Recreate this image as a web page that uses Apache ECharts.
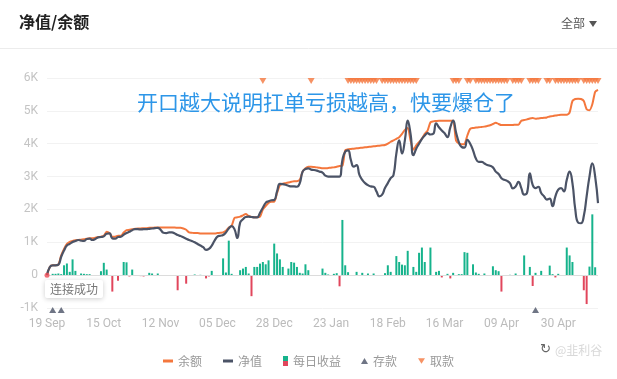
<!DOCTYPE html>
<html><head><meta charset="utf-8">
<script src="https://cdn.jsdelivr.net/npm/echarts@6/dist/echarts.min.js"></script>
<style>html,body{margin:0;padding:0;background:#fff}#c{width:617px;height:379px}</style>
</head><body><div id="c"></div>
<script>
const tickLabels = ['19 Sep','15 Oct','12 Nov','05 Dec','28 Dec','23 Jan','18 Feb','16 Mar','09 Apr','30 Apr'];

const balance = [
0,250,300,300,320,600,800,950,1010,1040,
1060,1070,1080,1090,1110,1120,1120,1140,1160,1170,
1200,1320,1280,1170,1170,1200,1200,1300,1370,1380,
1400,1410,1420,1420,1430,1430,1440,1440,1450,1450,
1450,1450,1450,1450,1450,1450,1440,1440,1420,1380,
1300,1290,1280,1280,1270,1270,1270,1270,1270,1270,
1280,1290,1300,1350,1450,1500,1740,1760,1780,1820,
1860,1800,1770,1760,1760,1780,2000,2100,2200,2230,
2230,2500,2740,2780,2800,2820,2840,2860,2860,2900,
3150,3250,3300,3300,3290,3280,3270,3250,3250,3260,
3270,3280,3300,3320,3330,3800,3830,3840,3850,3860,
3870,3880,3890,3900,3910,3920,3930,3940,3950,3960,
4000,4060,4100,4150,4200,4300,4420,4480,4100,3820,
3950,4050,4150,4300,4400,4650,4680,4690,4700,4700,
4700,4700,4700,4700,4100,4010,3980,3990,4250,4450,
4480,4490,4500,4510,4520,4540,4560,4600,4640,4600,
4570,4570,4570,4570,4570,4580,4580,4700,4720,4740,
4770,4780,4760,4770,4780,4790,4800,4830,4840,4860,
4870,4880,4880,4880,4950,5300,5360,5370,5360,5300,
5050,5020,5200,5580,5640
];

const netValue = [
0,250,300,300,320,560,750,900,950,1010,
1040,1070,1050,1040,1100,1110,1070,1100,1150,1160,
1180,1260,1270,1120,1110,1160,1170,1230,1280,1320,
1370,1400,1400,1390,1400,1400,1410,1420,1430,1440,
1380,1290,1280,1300,1300,1270,1220,1190,1150,1110,
1070,1040,1000,950,900,850,770,800,900,1050,
1170,1200,1220,1300,1420,1490,1400,1130,1600,1700,
1770,1780,1770,1760,1760,1900,2050,2200,2250,2280,
2290,2550,2780,2770,2750,2720,2700,2700,2690,2800,
3150,3230,3250,3210,3200,3180,3150,3120,3030,3000,
3000,3000,3000,3000,3500,3760,3800,3500,3300,3350,
3050,2900,2800,2740,2700,2690,2550,2400,2450,2650,
2800,2950,3050,3700,4100,3700,4100,4700,4300,3650,
3850,4000,4150,4250,4320,4280,4300,4620,4500,4400,
4320,4200,4500,4700,4350,4050,3900,3880,4120,4000,
3800,3550,3450,3450,3400,3350,3330,3280,3150,3080,
2950,2900,2870,2800,2640,2700,2840,2650,2450,2500,
3100,2750,2650,2690,2500,2400,2300,2330,2100,2400,
2600,2650,2550,2900,3150,2800,2000,1600,1580,1800,
2400,3000,3400,3000,2190
];

const dailyProfit = [
0,0,40,40,50,30,300,355,100,480,
130,0,50,40,30,30,0,0,0,120,
375,170,0,-500,0,-170,0,400,390,-40,
170,0,0,-30,-40,0,70,50,0,50,
0,0,0,0,0,0,-460,0,0,-260,
0,0,20,0,10,0,-100,-40,130,0,
0,0,510,80,1050,40,0,-20,150,200,
250,50,-640,250,250,350,400,330,450,0,
960,660,480,250,0,200,400,380,250,70,
50,330,150,0,0,0,0,200,70,20,
0,40,60,-340,1680,300,90,0,0,100,
0,70,0,50,0,50,0,0,0,60,
300,100,0,580,400,320,300,740,0,250,
100,680,840,400,0,840,0,100,130,-70,
0,40,-100,70,0,30,30,700,680,0,
330,80,40,0,50,0,0,270,150,120,
-500,0,0,10,0,50,0,0,600,0,
250,-330,70,0,130,0,0,290,30,-70,
40,0,0,840,600,400,0,0,0,-460,
-880,260,1850,240,0
];

const depositIdx = [2, 5, 172];
const withdrawIdx = [76, 93,
  106,107,108,109,110,111,112,113,114,115,116,
  118,119,120,121,122,123,124,125,126,127,128,129,130,
  143,144,145, 148,149,
  151,152,153,154,155,156,157,158,159,160,161,162,
  164,165,166,167, 170,171,172,173, 176,177,
  179,180,181,182,183,184,185,186,187,
  189,190,191,192,193,194];

const categories = netValue.map((v, i) => String(i));
const GREEN = '#16b38c', RED = '#e1465c', ORANGE = '#f4773d', DARK = '#4b5366';
const CJK = '"Noto Sans CJK SC", "Noto Sans", sans-serif';

const chart = echarts.init(document.getElementById('c'), null, {renderer: 'canvas'});
chart.setOption({
  animation: false,
  textStyle: {fontFamily: CJK},
  grid: {left: 47, right: 19, top: 78, bottom: 71, containLabel: false},
  xAxis: {
    type: 'category', data: categories, boundaryGap: false,
    axisLine: {show: false, onZero: false}, axisTick: {show: false},
    axisLabel: {
      interval: 19, color: '#bbb', fontSize: 12, margin: 10,
      fontFamily: 'Roboto, sans-serif',
      formatter: (v, i) => tickLabels[Math.round(i / 20)] || ''
    },
    splitLine: {show: false}
  },
  yAxis: {
    type: 'value', min: -1000, max: 6000, interval: 1000,
    axisLine: {show: false}, axisTick: {show: false},
    axisLabel: {color: '#c4c4c4', fontSize: 12, margin: 9, fontFamily: 'Roboto, sans-serif',
      formatter: v => v === 0 ? '0' : (v / 1000) + 'K'},
    splitLine: {lineStyle: {color: '#f2f2f2', width: 1}}
  },
  legend: [
    {data: ['余额', '净值'], left: 163, top: 355, padding: 0, itemWidth: 10, itemHeight: 3,
     icon: 'rect', itemGap: 21, textStyle: {color: '#999', fontSize: 12, fontFamily: CJK}},
    {data: [{name: '每日收益', itemStyle: {color: {type: 'linear', x: 0, y: 0, x2: 0, y2: 1,
       colorStops: [{offset: 0, color: GREEN}, {offset: 0.5, color: GREEN}, {offset: 0.5, color: RED}, {offset: 1, color: RED}]}}}],
     left: 283, top: 355, padding: 0, itemWidth: 5, itemHeight: 10,
     icon: 'rect', textStyle: {color: '#999', fontSize: 12, fontFamily: CJK}},
    {data: [{name: '存款', icon: 'triangle'}, {name: '取款', icon: 'path://M0,0L10,0L5,8Z'}],
     left: 361, top: 355, padding: 0, itemWidth: 7, itemHeight: 6, itemGap: 21,
     textStyle: {color: '#999', fontSize: 12, fontFamily: CJK}}
  ],
  series: [
    {name: '每日收益', type: 'bar', data: dailyProfit, barWidth: 2,
     itemStyle: {color: p => p.value >= 0 ? GREEN : RED},
     markLine: {silent: true, symbol: 'none', label: {show: false},
       lineStyle: {color: '#dcdcdc', type: 'solid', width: 1}, data: [{yAxis: 0}]},
     z: 2},
    {name: '余额', type: 'line', data: balance, color: ORANGE, showSymbol: false, smooth: 0.25,
     lineStyle: {width: 2, color: ORANGE}, z: 3},
    {name: '净值', type: 'line', data: netValue, color: DARK, showSymbol: false, smooth: 0.5,
     lineStyle: {width: 2.2, color: DARK}, z: 4},
    {name: '存款', type: 'scatter', color: DARK, symbol: 'triangle', symbolSize: [7, 6], symbolOffset: [0, 2],
     data: depositIdx.map(i => [i, -1000]), itemStyle: {color: DARK}, z: 5},
    {name: '取款', type: 'scatter', color: ORANGE, symbol: 'triangle', symbolRotate: 180, symbolSize: [7, 6], symbolOffset: [0, 3],
     data: withdrawIdx.map(i => [i, 6000]), itemStyle: {color: ORANGE}, z: 5},
    {name: 'start', type: 'scatter', symbol: 'circle', symbolSize: 5, data: [[0, 0]],
     itemStyle: {color: '#ee4a55'}, z: 6}
  ],
  graphic: [
    {type: 'text', left: 19, top: 14, style: {text: '净值/余额', font: 'bold 16px ' + CJK, fill: '#222'}},
    {type: 'text', left: 561, top: 17, style: {text: '全部', font: '12px ' + CJK, fill: '#555'}},
    {type: 'polygon', shape: {points: [[589, 21], [597, 21], [593, 27]]}, style: {fill: '#555'}},
    {type: 'line', shape: {x1: 0, y1: 48.5, x2: 617, y2: 48.5}, style: {stroke: '#ececec', lineWidth: 1}},
    {type: 'text', left: 137, top: 92, z: 10,
     style: {text: '开口越大说明扛单亏损越高，快要爆仓了', font: '21px ' + CJK, fill: '#2d96e8'}},
    {type: 'group', z: 20, children: [
      {type: 'rect', shape: {x: 45, y: 280, width: 58, height: 18, r: 2},
       style: {fill: '#fff', shadowBlur: 5, shadowColor: 'rgba(0,0,0,0.2)', shadowOffsetY: 1}},
      {type: 'text', x: 74, y: 289, style: {text: '连接成功', font: '12px ' + CJK, fill: '#777', align: 'center', verticalAlign: 'middle'}}
    ]},
    {type: 'text', left: 540, top: 343, style: {text: '↻', font: '13px DejaVu Sans', fill: '#666'}},
    {type: 'text', left: 555, top: 344, style: {text: '@韭利谷', font: '12px ' + CJK, fill: '#d8d8d8'}}
  ]
});
</script></body></html>
